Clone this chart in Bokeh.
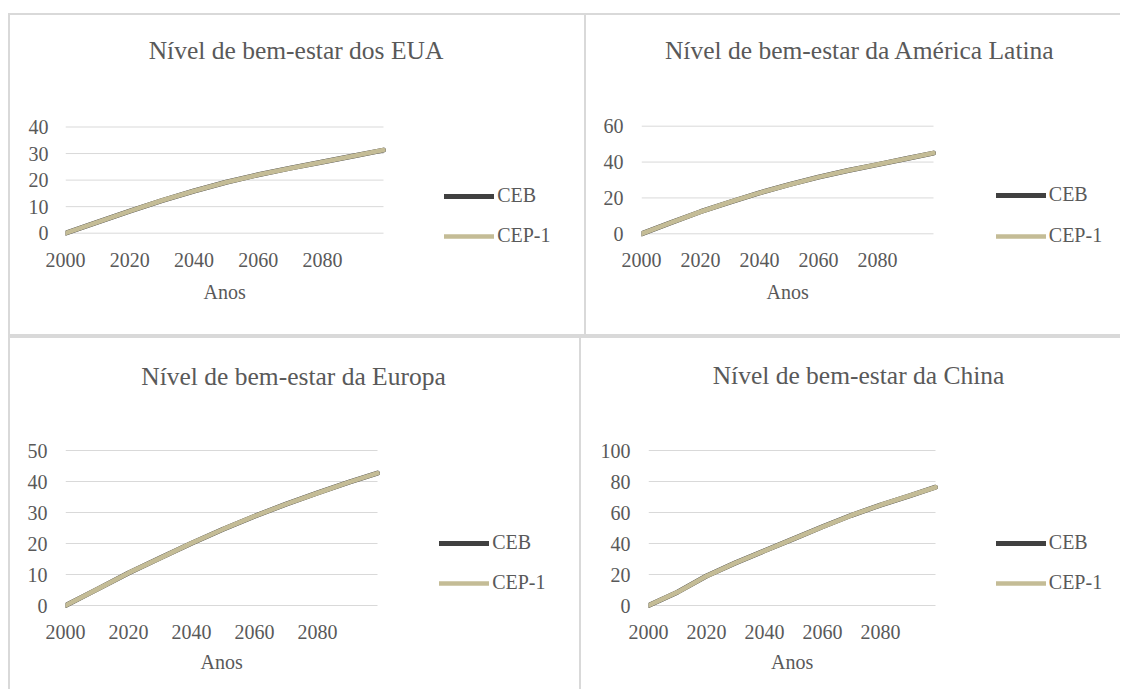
from bokeh.plotting import figure
from bokeh.models import Range1d, FixedTicker, Legend, LegendItem, Label, Title, Spacer
from bokeh.layouts import column, row
from bokeh.embed import file_html
from bokeh.resources import INLINE

# ---------------- data ----------------
years = [2000, 2010, 2020, 2030, 2040, 2050, 2060, 2070, 2080, 2090, 2099]
eua_ceb = [0, 4.2, 8.3, 12.3, 15.9, 19.2, 22.0, 24.5, 26.8, 29.2, 31.3]
eua_cep1 = [0, 4.2, 8.3, 12.3, 15.9, 19.2, 22.0, 24.5, 26.8, 29.2, 31.3]
latam_ceb = [0, 6.2, 12.3, 17.7, 22.8, 27.4, 31.6, 35.3, 38.6, 42.0, 45.0]
latam_cep1 = [0, 6.2, 12.3, 17.7, 22.8, 27.4, 31.6, 35.3, 38.6, 42.0, 45.0]
europa_ceb = [0, 5.2, 10.5, 15.3, 20.1, 24.6, 28.8, 32.7, 36.3, 39.8, 42.7]
europa_cep1 = [0, 5.2, 10.5, 15.3, 20.1, 24.6, 28.8, 32.7, 36.3, 39.8, 42.7]
china_ceb = [0, 8.6, 19.0, 27.5, 35.3, 43.0, 50.8, 58.2, 64.8, 70.8, 76.3]
china_cep1 = [0, 8.6, 19.0, 27.5, 35.3, 43.0, 50.8, 58.2, 64.8, 70.8, 76.3]

x_ticks = [2000, 2020, 2040, 2060, 2080]
x_first, x_last = 2000, 2099
series_names = ["CEB", "CEP-1"]
x_label = "Anos"
titles = ["Nível de bem-estar dos EUA", "Nível de bem-estar da América Latina",
          "Nível de bem-estar da Europa", "Nível de bem-estar da China"]
y_max = [40, 60, 50, 100]
y_step = [10, 20, 10, 20]

# ---------------- style ----------------
FONT = "Liberation Serif"
TXT = "#595959"
GRID = "#d9d9d9"
C_CEB = "#404040"
C_CEP = "#c4bc96"
BORDER = "#d9d9d9"

# page-pixel layout of each panel (origin = canvas top-left on the page)
LAYOUTS = [
    dict(origin=(10, 15), size=(576, 321), gx=(65, 383), gy=(126.5, 232.7), ylab_r=48,
         xlab=260, alab=293, title=(295.5, 50), leg_x=441.7, leg_y=(196.7, 236),
         css={"border-top": f"2px solid {BORDER}", "border-left": f"2px solid {BORDER}"}),
    dict(origin=(586, 15), size=(536, 321), gx=(641, 933), gy=(125.7, 233.3), ylab_r=623,
         xlab=260, alab=293, title=(859.5, 50), leg_x=993.3, leg_y=(196, 236),
         css={"border-top": f"2px solid {BORDER}", "border-left": f"2px solid {BORDER}"}),
    dict(origin=(10, 338), size=(571, 355), gx=(65, 377), gy=(450, 605), ylab_r=46.7,
         xlab=632, alab=663, title=(293, 376), leg_x=436.7, leg_y=(544.3, 583.3),
         css={"border-top": f"4px solid {BORDER}", "border-left": f"2px solid {BORDER}"}),
    dict(origin=(581, 338), size=(541, 355), gx=(648, 935), gy=(450, 605), ylab_r=630,
         xlab=632, alab=663, title=(858, 375), leg_x=993.3, leg_y=(544.3, 583.3),
         css={"border-top": f"4px solid {BORDER}", "border-left": f"2px solid {BORDER}"}),
]

TICK_SIZE = "20px"
TITLE_SIZE = "25.5px"
LINE_H = 22   # approx text height for 20px font
TEXT_DY = 3   # measured correction for label vertical placement


def panel(title, ceb, cep, ymax, ystep, L):
    ox, oy = L["origin"]
    W, H = L["size"]
    gx0, gx1 = L["gx"]
    gtop, gzero = L["gy"]
    ly1, ly2 = L["leg_y"]
    leg_bottom = ly2 + LINE_H / 2

    fl = gx0 - ox                              # frame left (canvas px)
    fb_page = max(gzero + 4, leg_bottom + 1)   # frame bottom (page px)
    fb = fb_page - oy
    ppu = (gzero - gtop) / ymax                # px per y unit
    pxyr = (gx1 - gx0) / (x_last - x_first)    # px per year
    y0 = -(fb_page - gzero) / ppu
    y1 = (gzero - oy) / ppu
    x1 = x_first + (ox + W - gx0) / pxyr

    p = figure(width=W, height=H, x_range=Range1d(x_first, x1), y_range=Range1d(y0, y1),
               output_backend="svg", toolbar_location=None,
               min_border_left=int(round(fl)), min_border_right=0,
               min_border_top=0, min_border_bottom=int(round(H - fb)))
    p.styles = L["css"]
    p.outline_line_color = None
    p.background_fill_color = "white"
    p.border_fill_color = "white"
    p.xgrid.grid_line_color = None
    p.ygrid.grid_line_color = None

    yt = list(range(0, ymax + 1, ystep))
    p.yaxis.ticker = FixedTicker(ticks=yt)
    p.xaxis.ticker = FixedTicker(ticks=x_ticks)

    for ax in (p.xaxis[0], p.yaxis[0]):
        ax.axis_line_color = None
        ax.major_tick_line_color = None
        ax.minor_tick_line_color = None
        ax.major_tick_out = 0
        ax.major_tick_in = 0
        ax.minor_tick_out = 0
        ax.major_label_text_font = FONT
        ax.major_label_text_font_size = TICK_SIZE
        ax.major_label_text_color = TXT

    p.yaxis.major_label_standoff = int(round(fl - (L["ylab_r"] - ox)))
    xstand = max(0, int(round((L["xlab"] + TEXT_DY - LINE_H / 2) - fb_page)))
    p.xaxis.major_label_standoff = xstand

    # horizontal gridlines over the plotted year span
    p.segment(x0=[x_first] * len(yt), x1=[x_last] * len(yt), y0=yt, y1=yt,
              line_color=GRID, line_width=1)

    r1 = p.line(years, ceb, line_color=C_CEB, line_width=5, line_cap="round", line_join="round")
    r2 = p.line(years, cep, line_color=C_CEP, line_width=4.6, line_cap="round", line_join="round")

    spacing = (ly2 - ly1) - LINE_H
    leg_left = L["leg_x"] + 2.5
    legend = Legend(items=[LegendItem(label=series_names[0], renderers=[r1]),
                           LegendItem(label=series_names[1], renderers=[r2])],
                    location=(leg_left - gx0, fb_page - leg_bottom),
                    padding=0, margin=0, spacing=int(round(spacing)),
                    glyph_width=50, glyph_height=LINE_H, label_height=LINE_H,
                    label_standoff=3, border_line_color=None, background_fill_alpha=0,
                    label_text_font=FONT, label_text_font_size=TICK_SIZE,
                    label_text_color=TXT)
    p.add_layout(legend)

    tx, ty = L["title"]
    p.add_layout(Label(x=tx - gx0, y=fb_page - ty, x_units="screen", y_units="screen",
                       text=title, text_align="center", text_baseline="middle",
                       text_font=FONT, text_font_size=TITLE_SIZE, text_color=TXT))

    # x-axis title, centred under the plotted span
    top = fb_page + xstand + LINE_H
    anos_w = 42
    t = Title(text=x_label, align="left", vertical_align="top",
              offset=((gx0 + gx1) / 2 - anos_w / 2) - gx0,
              standoff=max(0, int(round(2 * (L["alab"] + TEXT_DY - top - LINE_H / 2)))),
              text_font=FONT, text_font_size=TICK_SIZE, text_color=TXT,
              text_font_style="normal")
    p.add_layout(t, "below")
    return p


data = [(eua_ceb, eua_cep1), (latam_ceb, latam_cep1), (europa_ceb, europa_cep1), (china_ceb, china_cep1)]
plots = [panel(titles[i], data[i][0], data[i][1], y_max[i], y_step[i], LAYOUTS[i]) for i in range(4)]

layout = row(Spacer(width=8, height=1),
             column(Spacer(width=10, height=13), row(plots[0], plots[1]), row(plots[2], plots[3])))

open("out.html", "w").write(file_html(layout, INLINE))
